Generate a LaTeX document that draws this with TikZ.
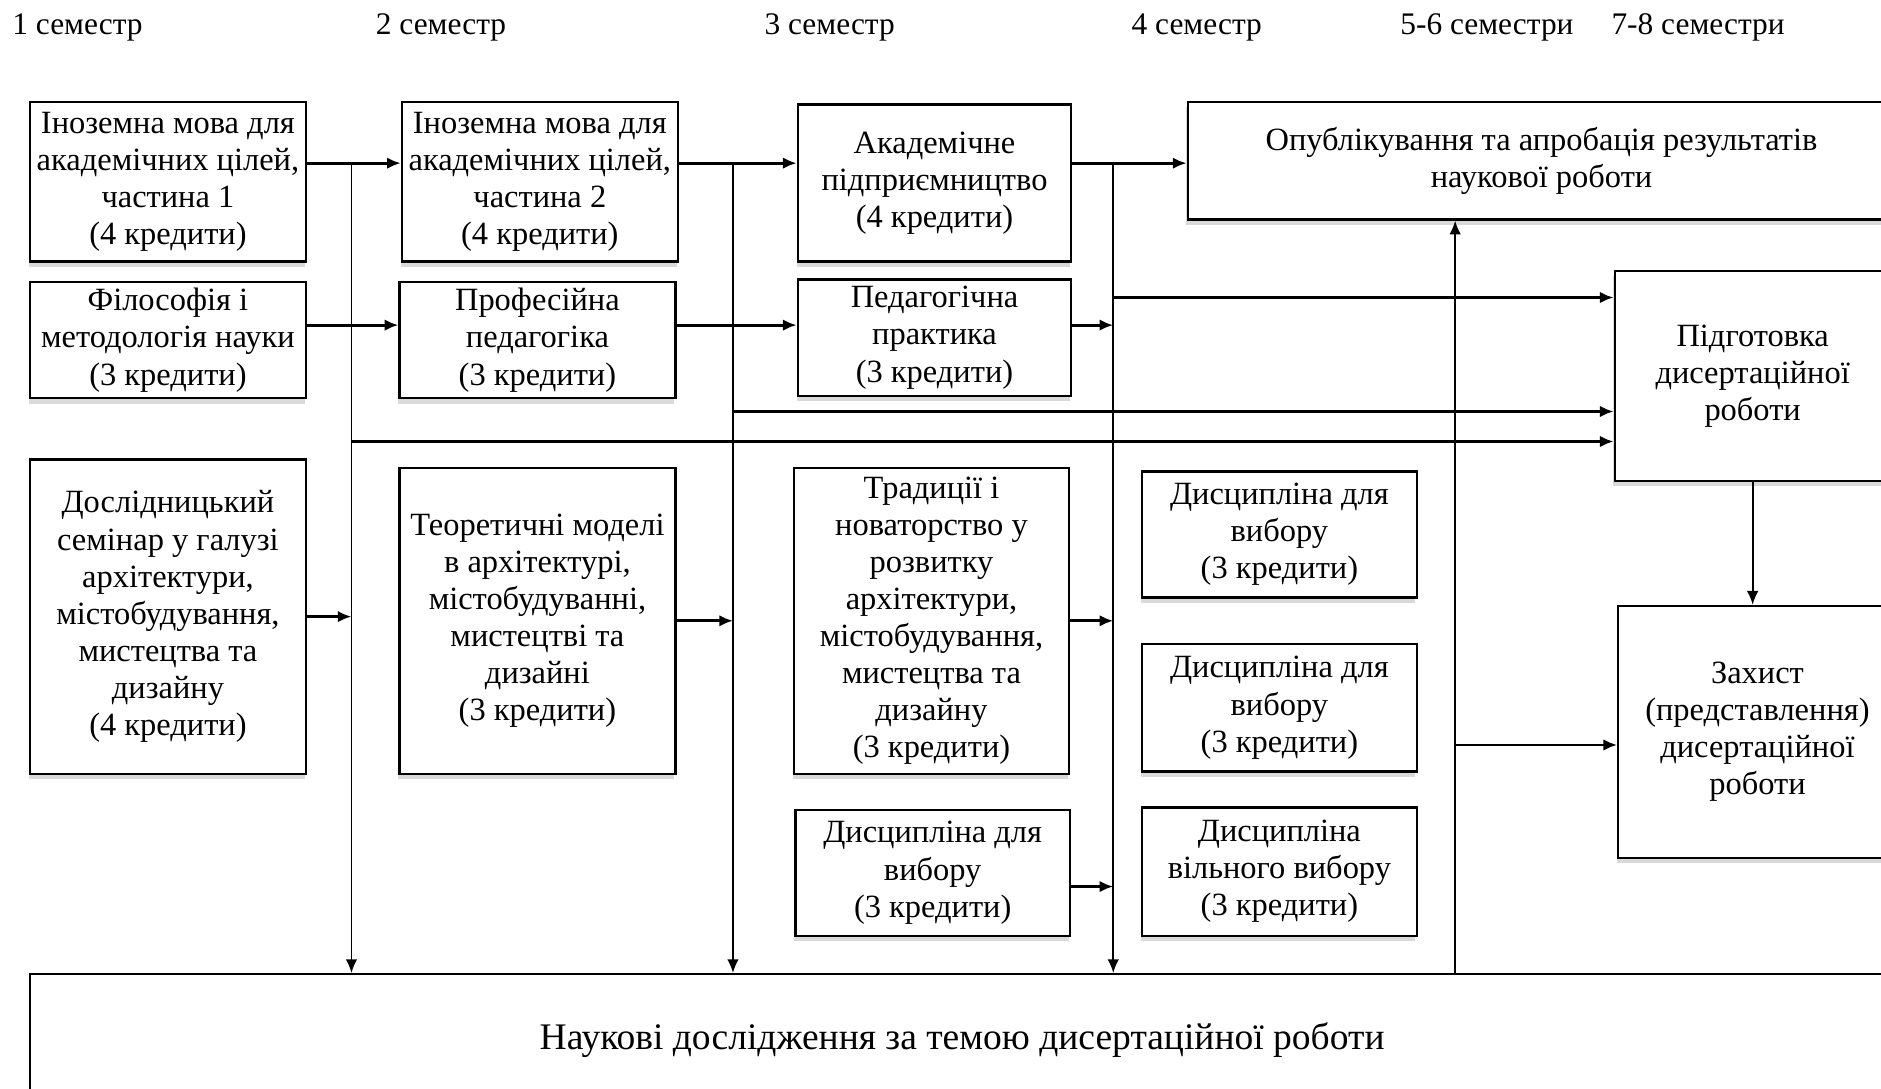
\documentclass[tikz,border=0pt]{standalone}
\usepackage{fontspec}
\setmainfont{Liberation Serif}
\usetikzlibrary{arrows.meta,shadows}
\tikzset{
  >={Latex[length=6.5pt,width=5.5pt]},
}
\tikzstyle{box}=[draw,line width=1.1pt,fill=white,align=center,inner sep=0pt,
  drop shadow={shadow xshift=-0.6pt,shadow yshift=-2.5pt,opacity=.3}]
\tikzstyle{flow}=[line width=1.4pt,->]
\tikzstyle{bus}=[line width=0.8pt,->]
\tikzstyle{sem}=[anchor=west,inner sep=0pt,font=\fontsize{14.9}{17.6}\selectfont]
\tikzstyle{every node}=[font=\fontsize{15.4}{17.6}\selectfont]

\begin{document}
\begin{tikzpicture}[x=0.02cm,y=-0.02cm]
    \useasboundingbox (0,0) rectangle (1568,907);
    % semesters
    \node[sem] (s1) at (10,23) {1 семестр};
    \node[sem] (s2) at (313,23) {2 семестр};
    \node[sem] (s3) at (637,23) {3 семестр};
    \node[sem] (s4) at (943,23) {4 семестр};
    \node[sem] (s56) at (1167,23) {5-6 семестри};
    \node[sem] (s78) at (1343,23) {7-8 семестри};
    % 1st column
    \node[box,minimum width=4.6cm,minimum height=2.66cm] (b1) at (140,151.5)
      {Іноземна мова для\\академічних цілей,\\частина 1\\(4 кредити)};
    \node[box,minimum width=4.6cm,minimum height=1.94cm] (b2) at (140,283.5)
      {Філософія і\\методологія науки\\(3 кредити)};
    \node[box,minimum width=4.6cm,minimum height=5.24cm] (b3) at (140,514)
      {Дослідницький\\семінар у галузі\\архітектури,\\містобудування,\\мистецтва та\\дизайну\\(4 кредити)};
    % 2nd column
    \node[box,minimum width=4.6cm,minimum height=2.66cm] (c1) at (450,151.5)
      {Іноземна мова для\\академічних цілей,\\частина 2\\(4 кредити)};
    \node[box,minimum width=4.6cm,minimum height=1.94cm] (c2) at (448,283.5)
      {Професійна\\педагогіка\\(3 кредити)};
    \node[box,minimum width=4.6cm,minimum height=5.1cm] (c3) at (448,517.5)
      {Теоретичні моделі\\в архітектурі,\\містобудуванні,\\мистецтві та\\дизайні\\(3 кредити)};
    % 3rd column
    \node[box,minimum width=4.56cm,minimum height=2.62cm] (d1) at (779,152.5)
      {Академічне\\підприємництво\\(4 кредити)};
    \node[box,minimum width=4.56cm,minimum height=1.94cm] (d2) at (779,281.5)
      {Педагогічна\\практика\\(3 кредити)};
    \node[box,minimum width=4.58cm,minimum height=5.1cm] (d3) at (776.5,517.5)
      {Традиції і\\новаторство у\\розвитку\\архітектури,\\містобудування,\\мистецтва та\\дизайну\\(3 кредити)};
    \node[box,minimum width=4.58cm,minimum height=2.1cm] (d4) at (777.5,727.5)
      {Дисципліна для\\вибору\\(3 кредити)};
    % 4th column
    \node[box,minimum width=4.58cm,minimum height=2.1cm] (e1) at (1066.5,445.5)
      {Дисципліна для\\вибору\\(3 кредити)};
    \node[box,minimum width=4.58cm,minimum height=2.12cm] (e2) at (1066.5,590)
      {Дисципліна для\\вибору\\(3 кредити)};
    \node[box,minimum width=4.58cm,minimum height=2.14cm] (e3) at (1066.5,726.5)
      {Дисципліна\\вільного вибору\\(3 кредити)};
    % final stages
    \node[box,minimum width=11.8cm,minimum height=1.96cm] (pub) at (1285,134)
      {Опублікування та апробація результатів\\наукової роботи};
    \node[box,minimum width=4.6cm,minimum height=3.5cm] (prep) at (1461,313.5)
      {Підготовка\\дисертаційної\\роботи};
    \node[box,minimum width=4.64cm,minimum height=4.2cm] (def) at (1465,610)
      {Захист\\(представлення)\\дисертаційної\\роботи};
    \node[box,minimum width=31.08cm,minimum height=2.2cm,font=\fontsize{17.8}{21}\selectfont] (res) at (802,867)
      {Наукові дослідження за темою дисертаційної роботи};
    % buses and rows
    \coordinate (bus1) at (293,136);
    \coordinate (bus2) at (611,136);
    \coordinate (bus3) at (928,136);
    \coordinate (bus4) at (1213,812);
    \coordinate (r2) at (0,271);
    \coordinate (rg1) at (0,248);
    \coordinate (rg2) at (0,343);
    \coordinate (rg3) at (0,368);
    \coordinate (rd4) at (0,739);
    \coordinate (rh) at (0,621);
    \draw[bus] (bus1) -- (bus1 |- res.north);
    \draw[bus] (bus2) -- (bus2 |- res.north);
    \draw[bus] (bus3) -- (bus3 |- res.north);
    \draw[bus] (bus4) -- (bus4 |- pub.south);
    \draw[bus] (prep.south) -- (prep.south |- def.north);
    % top row
    \draw[flow] (b1.east |- bus1) -- (c1.west |- bus1);
    \draw[flow] (c1.east |- bus2) -- (d1.west |- bus2);
    \draw[flow] (d1.east |- bus3) -- (pub.west |- bus3);
    % second row
    \draw[flow] (b2.east |- r2) -- (c2.west |- r2);
    \draw[flow] (c2.east |- r2) -- (d2.west |- r2);
    \draw[flow] (d2.east |- r2) -- (bus3 |- r2);
    % into the thesis
    \draw[flow] (bus3 |- rg1) -- (prep.west |- rg1);
    \draw[flow] (bus2 |- rg2) -- (prep.west |- rg2);
    \draw[flow] (bus1 |- rg3) -- (prep.west |- rg3);
    % lower boxes
    \draw[flow] (b3.east) -- (bus1 |- b3.east);
    \draw[flow] (c3.east) -- (bus2 |- c3.east);
    \draw[flow] (d3.east) -- (bus3 |- d3.east);
    \draw[flow] (d4.east |- rd4) -- (bus3 |- rd4);
    \draw[flow] (bus4 |- rh) -- (def.west |- rh);
  \end{tikzpicture}
\end{document}
